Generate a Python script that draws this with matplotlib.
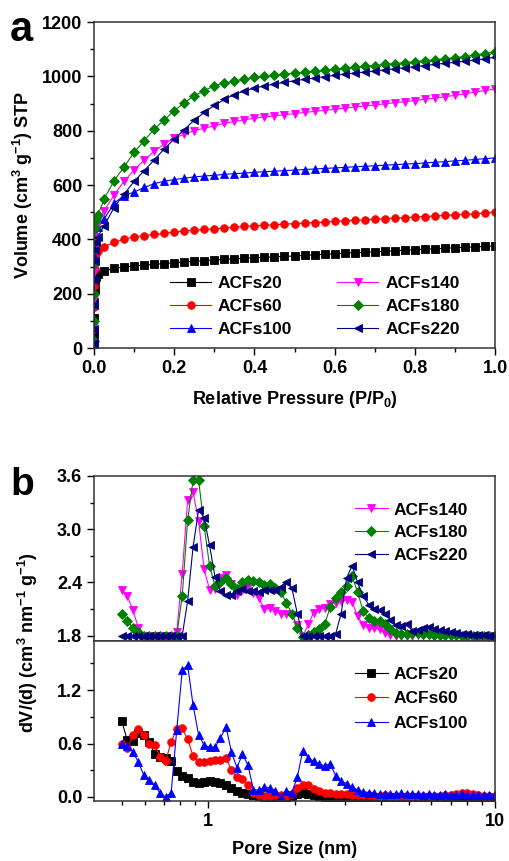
import matplotlib
matplotlib.use('Agg')
import matplotlib.pyplot as plt

plt.rcParams['font.family'] = ['Liberation Sans', 'DejaVu Sans']
plt.rcParams['font.weight'] = 'bold'
plt.rcParams['axes.labelweight'] = 'bold'
plt.rcParams['mathtext.fontset'] = 'custom'
plt.rcParams['mathtext.rm'] = 'Liberation Sans:bold'
plt.rcParams['mathtext.it'] = 'Liberation Sans:bold'
plt.rcParams['mathtext.bf'] = 'Liberation Sans:bold'

# ---- panel a: N2 isotherms ----
p_rel = [0.00002, 0.0001, 0.0003, 0.0007, 0.0015, 0.003, 0.006, 0.01,
         0.025, 0.05, 0.075, 0.1, 0.125, 0.15, 0.175, 0.2, 0.225, 0.25,
         0.275, 0.3, 0.325, 0.35, 0.375, 0.4, 0.425, 0.45, 0.475, 0.5,
         0.525, 0.55, 0.575, 0.6, 0.625, 0.65, 0.675, 0.7, 0.725, 0.75,
         0.775, 0.8, 0.825, 0.85, 0.875, 0.9, 0.925, 0.95, 0.975, 1.0]

vol_20 = [15, 50, 110, 170, 215, 245, 262, 272,
          285, 293, 298, 302, 305, 308, 311, 314, 317, 319,
          322, 324, 326, 328, 330, 332, 334, 336, 337, 339,
          341, 343, 345, 347, 349, 351, 352, 354, 356, 358,
          360, 362, 364, 365, 367, 369, 371, 372, 374, 376]
vol_60 = [20, 70, 150, 230, 290, 325, 345, 358,
          373, 389, 401, 409, 414, 418, 422, 427, 431, 434,
          437, 439, 442, 445, 448, 450, 452, 454, 456, 458,
          460, 462, 464, 466, 468, 470, 472, 474, 476, 478,
          480, 482, 484, 486, 488, 490, 492, 494, 497, 500]
vol_100 = [20, 80, 170, 260, 330, 380, 420, 445,
           475, 533, 561, 574, 591, 605, 614, 620, 625, 630,
           633, 636, 639, 642, 644, 647, 649, 651, 653, 655,
           657, 659, 661, 663, 665, 667, 669, 671, 673, 675,
           677, 679, 681, 684, 686, 689, 691, 694, 697, 700]
vol_140 = [20, 80, 180, 280, 360, 410, 445, 470,
           505, 563, 614, 655, 692, 724, 751, 772, 788, 800,
           809, 818, 827, 834, 840, 846, 851, 855, 859, 863,
           867, 871, 875, 879, 883, 887, 891, 895, 899, 903,
           907, 911, 916, 920, 925, 930, 936, 942, 948, 954]
vol_180 = [25, 100, 200, 310, 390, 440, 470, 490,
           548, 616, 667, 720, 763, 806, 839, 874, 902, 929,
           947, 966, 975, 983, 990, 996, 1000, 1004, 1008, 1012,
           1016, 1019, 1023, 1026, 1030, 1033, 1037, 1040, 1044, 1047,
           1051, 1054, 1058, 1061, 1065, 1069, 1073, 1078, 1084, 1090]
vol_220 = [20, 70, 160, 250, 320, 360, 390, 410,
           450, 517, 567, 613, 653, 692, 733, 769, 804, 839,
           867, 893, 915, 933, 946, 957, 965, 972, 978, 984,
           989, 994, 999, 1004, 1008, 1012, 1016, 1020, 1024, 1028,
           1032, 1036, 1040, 1044, 1048, 1052, 1056, 1060, 1065, 1070]

# ---- panel b: pore size distributions ----
pore = [0.500, 0.522, 0.546, 0.571, 0.596, 0.623, 0.651, 0.681, 0.711, 0.743,
        0.777, 0.812, 0.848, 0.886, 0.926, 0.968, 1.011, 1.057, 1.104, 1.154,
        1.206, 1.260, 1.317, 1.376, 1.438, 1.503, 1.570, 1.641, 1.715, 1.792,
        1.873, 1.957, 2.045, 2.137, 2.233, 2.334, 2.439, 2.548, 2.663, 2.783,
        2.908, 3.039, 3.176, 3.318, 3.468, 3.624, 3.787, 3.957, 4.135, 4.321,
        4.516, 4.719, 4.932, 5.154, 5.386, 5.628, 5.881, 6.146, 6.423, 6.712,
        7.014, 7.330, 7.660, 8.004, 8.365, 8.741, 9.134, 9.545, 9.975]

psd_20 = [0.85, 0.64, 0.63, 0.72, 0.70, 0.62, 0.48, 0.45, 0.44, 0.40,
          0.29, 0.24, 0.21, 0.17, 0.16, 0.17, 0.175, 0.17, 0.155, 0.13,
          0.10, 0.07, 0.05, 0.035, 0.02, 0.01, 0.005, 0.003, 0.002, 0.002,
          0.003, 0.01, 0.03, 0.04, 0.035, 0.02, 0.01, 0.005, 0.002, 0.002,
          0.002, 0.002, 0.002, 0.002, 0.002, 0.002, 0.002, 0.002, 0.002, 0.002,
          0.002, 0.002, 0.002, 0.002, 0.002, 0.002, 0.002, 0.002, 0.002, 0.002,
          0.002, 0.002, 0.002, 0.002, 0.002, 0.002, 0.002, 0.002, 0.002]
psd_60 = [0.60, 0.55, 0.69, 0.76, 0.70, 0.59, 0.58, 0.45, 0.40, 0.62,
          0.76, 0.77, 0.65, 0.46, 0.39, 0.39, 0.40, 0.41, 0.42, 0.44,
          0.30, 0.22, 0.20, 0.13, 0.04, 0.02, 0.01, 0.01, 0.02, 0.02,
          0.01, 0.03, 0.10, 0.14, 0.13, 0.09, 0.07, 0.05, 0.04, 0.035,
          0.03, 0.03, 0.025, 0.02, 0.02, 0.02, 0.015, 0.015, 0.02, 0.015,
          0.015, 0.015, 0.015, 0.015, 0.015, 0.015, 0.015, 0.015, 0.015, 0.02,
          0.02, 0.03, 0.045, 0.05, 0.035, 0.02, 0.015, 0.015, 0.015]
psd_100 = [0.60, 0.57, 0.51, 0.39, 0.25, 0.19, 0.13, 0.04, 0.00, 0.05,
           0.75, 1.42, 1.48, 1.03, 0.70, 0.58, 0.56, 0.56, 0.66, 0.79,
           0.50, 0.33, 0.48, 0.36, 0.08, 0.08, 0.11, 0.10, 0.07, 0.00,
           0.07, 0.05, 0.22, 0.52, 0.44, 0.40, 0.37, 0.35, 0.37, 0.24,
           0.18, 0.15, 0.11, 0.08, 0.06, 0.05, 0.04, 0.035, 0.03, 0.03,
           0.035, 0.04, 0.035, 0.03, 0.03, 0.025, 0.03, 0.025, 0.025, 0.03,
           0.025, 0.025, 0.03, 0.025, 0.025, 0.02, 0.025, 0.02, 0.02]
psd_140 = [2.32, 2.25, 2.09, 1.89, 1.80, 1.80, 1.80, 1.80, 1.80, 1.80,
           1.84, 2.50, 3.33, 3.42, 3.09, 2.55, 2.32, 2.33, 2.45, 2.48,
           2.38, 2.26, 2.31, 2.35, 2.28, 2.22, 2.10, 2.11, 2.08, 2.04,
           2.04, 2.03, 1.92, 1.79, 1.93, 2.06, 2.10, 2.11, 2.16, 2.17,
           2.19, 2.20, 2.18, 2.02, 1.92, 1.89, 1.89, 1.87, 1.83, 1.81,
           1.80, 1.80, 1.80, 1.80, 1.81, 1.81, 1.81, 1.80, 1.80, 1.80,
           1.80, 1.80, 1.80, 1.80, 1.80, 1.80, 1.80, 1.80, 1.80]
psd_180 = [2.05, 1.97, 1.89, 1.84, 1.80, 1.80, 1.80, 1.80, 1.80, 1.80,
           1.80, 2.25, 3.10, 3.55, 3.55, 3.04, 2.59, 2.36, 2.41, 2.45,
           2.38, 2.33, 2.41, 2.43, 2.42, 2.40, 2.37, 2.38, 2.34, 2.29,
           2.17, 2.05, 1.89, 1.79, 1.81, 1.84, 1.88, 1.93, 2.12, 2.23,
           2.29, 2.36, 2.47, 2.29, 2.08, 2.00, 1.97, 1.96, 1.93, 1.88,
           1.83, 1.82, 1.82, 1.83, 1.83, 1.82, 1.82, 1.81, 1.81, 1.81,
           1.81, 1.81, 1.80, 1.80, 1.80, 1.80, 1.80, 1.80, 1.80]
psd_220 = [1.80, 1.80, 1.80, 1.80, 1.80, 1.80, 1.80, 1.80, 1.80, 1.80,
           1.80, 1.80, 2.19, 2.80, 3.22, 3.13, 2.82, 2.46, 2.30, 2.26,
           2.26, 2.30, 2.33, 2.30, 2.30, 2.29, 2.31, 2.32, 2.31, 2.35,
           2.41, 2.34, 2.05, 1.80, 1.80, 1.80, 1.80, 1.80, 1.80, 1.82,
           2.05, 2.45, 2.59, 2.40, 2.25, 2.15, 2.10, 2.09, 2.05, 1.98,
           1.92, 1.91, 1.93, 1.85, 1.86, 1.89, 1.90, 1.88, 1.86, 1.85,
           1.84, 1.83, 1.82, 1.82, 1.81, 1.81, 1.81, 1.80, 1.80]

# style for each sample: marker, colour
styles = {
    'ACFs20': ('s', 'black'),
    'ACFs60': ('o', '#ff0000'),
    'ACFs100': ('^', '#0000ff'),
    'ACFs140': ('v', '#ff00ff'),
    'ACFs180': ('D', '#008000'),
    'ACFs220': ('<', '#000080'),
}

TICK_FS = 13
LAB_FS = 13
LEG_FS = 12.5


def draw(ax, x, y, name, ms=5.5):
    mk, col = styles[name]
    if mk == 'D':
        ms = ms * 0.85
    ax.plot(x, y, marker=mk, color=col, markersize=ms, lw=0.8,
            markeredgewidth=0.6, label=name)


def style_axes(ax):
    for s in ax.spines.values():
        s.set_linewidth(1.1)
        s.set_color('#333333')
    ax.tick_params(which='both', direction='out', top=False, right=False,
                   labelsize=TICK_FS, width=1.0)
    ax.tick_params(which='major', length=5)
    ax.tick_params(which='minor', length=3)


fig = plt.figure(figsize=(5.09, 8.61), dpi=100)

# panel a
ax_a = fig.add_axes([0.1847, 0.5958, 0.7878, 0.3786])
draw(ax_a, p_rel, vol_20, 'ACFs20')
draw(ax_a, p_rel, vol_60, 'ACFs60')
draw(ax_a, p_rel, vol_100, 'ACFs100')
draw(ax_a, p_rel, vol_140, 'ACFs140')
draw(ax_a, p_rel, vol_180, 'ACFs180')
draw(ax_a, p_rel, vol_220, 'ACFs220')
ax_a.set_xlim(0, 1.0)
ax_a.set_ylim(0, 1200)
ax_a.set_xticks([0.0, 0.2, 0.4, 0.6, 0.8, 1.0])
ax_a.set_xticks([0.1, 0.3, 0.5, 0.7, 0.9], minor=True)
ax_a.set_yticks(range(0, 1201, 200))
ax_a.set_yticks(range(100, 1200, 200), minor=True)
ax_a.xaxis.set_major_formatter(plt.FormatStrFormatter('%.1f'))
style_axes(ax_a)
ax_a.set_xlabel('Relative Pressure (P/P$_0$)', fontsize=LAB_FS, labelpad=9)
ax_a.set_ylabel('Volume (cm$^3$ g$^{-1}$) STP', fontsize=LAB_FS, labelpad=5)
ax_a.legend(ncol=2, loc='upper left', bbox_to_anchor=(0.19, 0.222),
            frameon=False, fontsize=LEG_FS, handlelength=2.35,
            handletextpad=0.4, columnspacing=2.6, labelspacing=0.45,
            borderaxespad=0, borderpad=0, numpoints=1)
fig.text(0.02, 0.988, 'a', fontsize=30, fontweight='bold', va='top')

# panel b, upper part
ax_bu = fig.add_axes([0.1847, 0.2555, 0.7878, 0.1917])
draw(ax_bu, pore, psd_140, 'ACFs140')
draw(ax_bu, pore, psd_180, 'ACFs180')
draw(ax_bu, pore, psd_220, 'ACFs220')
ax_bu.set_xscale('log')
ax_bu.set_xlim(0.4, 10)
ax_bu.set_ylim(1.74, 3.6)
ax_bu.set_yticks([1.8, 2.4, 3.0, 3.6])
ax_bu.set_yticks([2.1, 2.7, 3.3], minor=True)
ax_bu.yaxis.set_major_formatter(plt.FormatStrFormatter('%.1f'))
style_axes(ax_bu)
ax_bu.tick_params(which='both', bottom=False, labelbottom=False)
ax_bu.legend(loc='upper left', bbox_to_anchor=(0.65, 0.84),
             frameon=False, fontsize=LEG_FS, handlelength=1.9,
             handletextpad=0.35, labelspacing=0.45,
             borderaxespad=0, borderpad=0, numpoints=1)

# panel b, lower part
ax_bl = fig.add_axes([0.1847, 0.0697, 0.7878, 0.1858])
draw(ax_bl, pore, psd_20, 'ACFs20')
draw(ax_bl, pore, psd_60, 'ACFs60')
draw(ax_bl, pore, psd_100, 'ACFs100')
ax_bl.set_xscale('log')
ax_bl.set_xlim(0.4, 10)
ax_bl.set_ylim(-0.045, 1.75)
ax_bl.set_yticks([0.0, 0.6, 1.2])
ax_bl.set_yticks([0.3, 0.9, 1.5], minor=True)
ax_bl.yaxis.set_major_formatter(plt.FormatStrFormatter('%.1f'))
ax_bl.set_xticks([1, 10])
ax_bl.set_xticklabels(['1', '10'])
ax_bl.set_xticks([0.5, 0.6, 0.7, 0.8, 0.9, 2, 3, 4, 5, 6, 7, 8, 9], minor=True)
ax_bl.xaxis.set_minor_formatter(plt.NullFormatter())
style_axes(ax_bl)
ax_bl.set_xlabel('Pore Size (nm)', fontsize=LAB_FS, labelpad=8)
ax_bl.legend(loc='upper left', bbox_to_anchor=(0.65, 0.84),
             frameon=False, fontsize=LEG_FS, handlelength=1.9,
             handletextpad=0.35, labelspacing=0.55,
             borderaxespad=0, borderpad=0, numpoints=1)

fig.text(0.055, 1 - 643 / 861, 'dV/(d) (cm$^3$ nm$^{-1}$ g$^{-1}$)',
         fontsize=LAB_FS, fontweight='bold', rotation=90,
         ha='center', va='center')
fig.text(0.02, 1 - 485 / 861, 'b', fontsize=28, fontweight='bold', va='center')

# tick labels in bold, once all ticks are in place
fig.canvas.draw()
for ax in (ax_a, ax_bu, ax_bl):
    for lab in ax.get_xticklabels() + ax.get_yticklabels():
        lab.set_fontweight('bold')

fig.savefig('out.png', dpi=100)
